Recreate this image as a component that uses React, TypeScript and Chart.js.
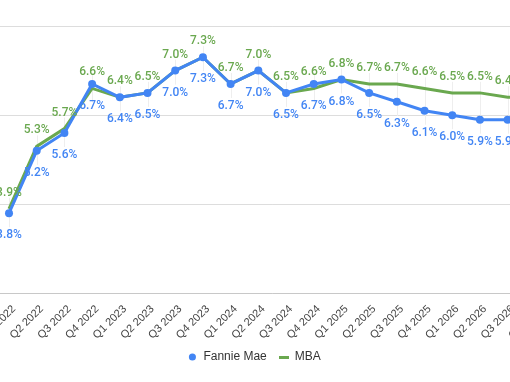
import React, { useEffect, useRef } from 'react';
import { Chart, registerables } from 'chart.js';

Chart.register(...registerables);

const quarters = [
  'Q1 2022', 'Q2 2022', 'Q3 2022', 'Q4 2022',
  'Q1 2023', 'Q2 2023', 'Q3 2023', 'Q4 2023',
  'Q1 2024', 'Q2 2024', 'Q3 2024', 'Q4 2024',
  'Q1 2025', 'Q2 2025', 'Q3 2025', 'Q4 2025',
  'Q1 2026', 'Q2 2026', 'Q3 2026', 'Q4 2026',
];
const fannieMae = [3.8, 5.2, 5.6, 6.7, 6.4, 6.5, 7.0, 7.3, 6.7, 7.0, 6.5, 6.7, 6.8, 6.5, 6.3, 6.1, 6.0, 5.9, 5.9, 5.8];
const mba = [3.9, 5.3, 5.7, 6.6, 6.4, 6.5, 7.0, 7.3, 6.7, 7.0, 6.5, 6.6, 6.8, 6.7, 6.7, 6.6, 6.5, 6.5, 6.4, 6.4];
const yTicks = [2, 4, 6, 8];

const BLUE = '#4285f4';
const GREEN = '#6aa84f';

function makeLineMarker(color: string) {
  const c = document.createElement('canvas');
  c.width = 10;
  c.height = 3;
  const g = c.getContext('2d');
  if (g) {
    g.fillStyle = color;
    g.fillRect(0, 0, 10, 3);
  }
  return c;
}

const labelPlugin = {
  id: 'pointLabels',
  beforeDatasetsDraw(chart: any) {
    const ctx = chart.ctx;
    const blue = chart.getDatasetMeta(0).data;
    const green = chart.getDatasetMeta(1).data;
    ctx.save();
    ctx.strokeStyle = '#eeeeee';
    ctx.lineWidth = 1;
    blue.forEach((pt: any, j: number) => {
      const g = green[j];
      if (!g) return;
      const x = Math.round(pt.x) + 0.5;
      ctx.beginPath();
      ctx.moveTo(x, Math.min(g.y, pt.y) - 11);
      ctx.lineTo(x, Math.max(g.y, pt.y) + 14);
      ctx.stroke();
    });
    ctx.restore();
  },
  afterDatasetsDraw(chart: any) {
    const ctx = chart.ctx;
    chart.data.datasets.forEach((ds: any, i: number) => {
      const meta = chart.getDatasetMeta(i);
      ctx.save();
      ctx.font = '500 12px Roboto';
      ctx.fillStyle = i === 0 ? BLUE : GREEN;
      ctx.textAlign = 'center';
      ctx.textBaseline = 'middle';
      meta.data.forEach((pt: any, j: number) => {
        const dy = i === 0 ? 22 : -16;
        ctx.fillText(Number(ds.data[j]).toFixed(1) + '%', pt.x, pt.y + dy);
      });
      ctx.restore();
    });
  },
};

export default function App() {
  const ref = useRef<HTMLCanvasElement | null>(null);

  useEffect(() => {
    if (!ref.current) return;
    const chart = new Chart(ref.current, {
      type: 'line',
      data: {
        labels: quarters,
        datasets: [
          {
            label: 'Fannie Mae',
            data: fannieMae,
            borderColor: BLUE,
            backgroundColor: BLUE,
            borderWidth: 3,
            pointRadius: 4,
            pointStyle: 'circle',
            pointBorderWidth: 0,
            pointBackgroundColor: BLUE,
            tension: 0,
            order: 0,
          },
          {
            label: 'MBA',
            data: mba,
            borderColor: GREEN,
            backgroundColor: GREEN,
            borderWidth: 3,
            pointRadius: 0,
            pointStyle: makeLineMarker(GREEN) as any,
            tension: 0,
            order: 1,
          },
        ],
      },
      options: {
        responsive: false,
        animation: false,
        layout: { padding: { top: 26, right: 14.8, bottom: 9, left: 9 } },
        plugins: {
          legend: {
            position: 'bottom',
            labels: {
              usePointStyle: true,
              boxWidth: 10,
              boxHeight: 5,
              color: '#333333',
              font: { family: 'Arial, "Liberation Sans", sans-serif', size: 12 },
              padding: 12,
            },
          },
          tooltip: { enabled: false },
        },
        scales: {
          x: {
            offset: true,
            grid: { display: false, drawTicks: false },
            border: { display: true, color: '#c8c8c8', width: 1 },
            ticks: {
              autoSkip: false,
              maxRotation: 45,
              minRotation: 45,
              padding: 9,
              labelOffset: 5,
              color: '#444444',
              font: { family: 'Arial, "Liberation Sans", sans-serif', size: 11 },
            },
            afterFit: (scale: any) => { scale.height = 45.5; },
          },
          y: {
            min: 2,
            max: 8,
            afterBuildTicks: (scale: any) => { scale.ticks = yTicks.map((v) => ({ value: v })); },
            grid: { color: '#dddddd', drawTicks: false },
            border: { display: false },
            ticks: {
              padding: 8,
              color: '#444444',
              font: { family: 'Arial, "Liberation Sans", sans-serif', size: 11 },
              callback: (v: any) => Number(v).toFixed(1) + '%',
            },
            afterFit: (scale: any) => { scale.width = 36.15; },
          },
        },
      },
      plugins: [labelPlugin],
    });
    return () => chart.destroy();
  }, []);

  return (
    <div style={{ position: 'fixed', left: 0, top: 0, width: 510, height: 382, overflow: 'hidden', background: '#ffffff' }}>
      <div style={{ position: 'absolute', left: -50, top: 0, width: 614, height: 382 }}>
        <canvas ref={ref} width={614} height={382} style={{ width: 614, height: 382, display: 'block' }} />
      </div>
    </div>
  );
}
